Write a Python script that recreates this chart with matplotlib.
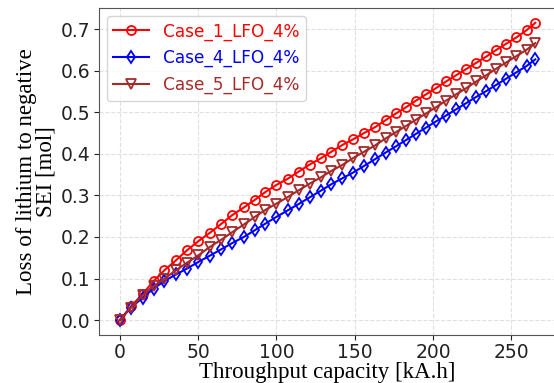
import matplotlib
matplotlib.use("Agg")
import matplotlib.pyplot as plt

throughput = [0.0, 7.1, 14.6, 21.6, 28.5, 35.9, 42.9, 50.2, 57.5, 64.6,
              71.6, 79.2, 86.1, 92.9, 99.9, 107.2, 114.1, 121.1, 128.2, 135.1,
              142.0, 149.0, 156.0, 162.9, 169.7, 176.3, 182.7, 189.1, 195.5, 201.9,
              208.3, 214.7, 221.2, 227.6, 234.0, 240.4, 246.8, 253.2, 259.6, 265.2]

case1 = [0.000, 0.033, 0.063, 0.094, 0.120, 0.144, 0.168, 0.190, 0.210, 0.231,
         0.252, 0.271, 0.289, 0.308, 0.325, 0.340, 0.357, 0.374, 0.389, 0.405,
         0.421, 0.435, 0.450, 0.464, 0.481, 0.497, 0.512, 0.528, 0.543, 0.558,
         0.574, 0.589, 0.604, 0.619, 0.634, 0.650, 0.665, 0.680, 0.697, 0.715]

case4 = [0.000, 0.030, 0.054, 0.076, 0.094, 0.110, 0.124, 0.140, 0.155, 0.170,
         0.185, 0.200, 0.216, 0.232, 0.248, 0.264, 0.279, 0.295, 0.311, 0.327,
         0.341, 0.355, 0.371, 0.387, 0.403, 0.418, 0.433, 0.448, 0.463, 0.478,
         0.492, 0.507, 0.522, 0.537, 0.551, 0.566, 0.581, 0.596, 0.611, 0.627]

case5 = [0.000, 0.030, 0.060, 0.082, 0.100, 0.120, 0.138, 0.156, 0.176, 0.193,
         0.211, 0.230, 0.248, 0.265, 0.280, 0.296, 0.312, 0.328, 0.343, 0.359,
         0.373, 0.390, 0.405, 0.420, 0.437, 0.452, 0.467, 0.482, 0.497, 0.512,
         0.528, 0.543, 0.558, 0.574, 0.589, 0.605, 0.620, 0.635, 0.650, 0.666]

labels = ["Case_1_LFO_4%", "Case_4_LFO_4%", "Case_5_LFO_4%"]
colors = ["red", "blue", "brown"]
markers = ["o", "d", "v"]

fig = plt.figure(figsize=(5.54, 3.83), dpi=100)
ax = fig.add_axes([0.1787, 0.1253, 0.825, 0.854])

for ys, lab, c, m in zip([case1, case4, case5], labels, colors, markers):
    ax.plot(throughput, ys, color=c, marker=m, markerfacecolor="none",
            markeredgecolor=c, markersize=6.5, markeredgewidth=1.3,
            linewidth=1.5, label=lab)

ax.grid(True, color="#e0e0e0", linestyle="--", linewidth=0.8)
ax.set_axisbelow(True)
ax.set_xticks([0, 50, 100, 150, 200, 250])
ax.set_yticks([0.0, 0.1, 0.2, 0.3, 0.4, 0.5, 0.6, 0.7])
ax.tick_params(labelsize=13.5, colors="#222222", length=3.5, pad=2.5)
for s in ax.spines.values():
    s.set_color("#555555")

ax.set_xlabel("Throughput capacity [kA.h]", family="Liberation Serif", fontsize=16.5, labelpad=0)
ax.set_ylabel("Loss of lithium to negative\nSEI [mol]", family="Liberation Serif", fontsize=16.5,
              linespacing=0.95, labelpad=3)

leg = ax.legend(loc="upper left", fontsize=12.2, labelcolor="linecolor",
                handlelength=2.1, handletextpad=0.8, borderaxespad=0.45,
                labelspacing=0.5, framealpha=0.8)

fig.savefig("out.png", dpi=100)
